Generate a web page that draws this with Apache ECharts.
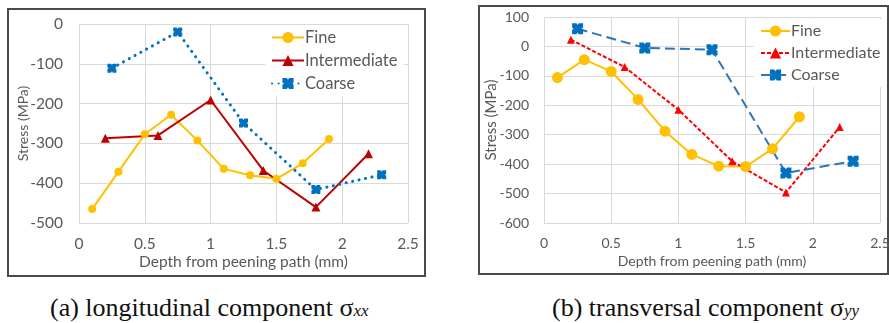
<!DOCTYPE html>
<html>
<head>
<meta charset="utf-8">
<script src="https://cdn.jsdelivr.net/npm/echarts@6/dist/echarts.min.js"></script>
<style>
  html, body { margin: 0; padding: 0; background: #fff; }
  body { width: 889px; height: 323px; position: relative; overflow: hidden; }
  .box { position: absolute; border: 2px solid #4a4a4a; box-sizing: border-box; }
  .chart { position: absolute; }
  .cap { position: absolute; font-family: "Liberation Serif", "DejaVu Serif", serif; font-size: 26px; color: #111; white-space: nowrap; line-height: 1; }
  .cap i { font-size: 17px; }
</style>
</head>
<body>
<div class="box" style="left:7px;top:8px;width:419px;height:269px;"></div>
<div class="box" style="left:478px;top:5px;width:411px;height:270px;"></div>
<div id="chartA" class="chart" style="left:7px;top:9px;width:418px;height:267px;"></div>
<div id="chartB" class="chart" style="left:479px;top:6px;width:410px;height:268px;"></div>
<div class="cap" style="left:50px;top:295px;">(a) longitudinal component σ<i>xx</i></div>
<div class="cap" style="left:552px;top:295px;">(b) transversal component σ<i>yy</i></div>
<script>
// Depth positions (mm) for each grain size
const depthFine = [0.1, 0.3, 0.5, 0.7, 0.9, 1.1, 1.3, 1.5, 1.7, 1.9];
const depthIntermediate = [0.2, 0.6, 1.0, 1.4, 1.8, 2.2];
const depthCoarse = [0.25, 0.75, 1.25, 1.8, 2.3];

// (a) longitudinal stress sigma_xx (MPa)
const sxxFine = [-465, -371, -277, -228, -293, -364, -380, -389, -350, -289];
const sxxIntermediate = [-287, -280, -191, -368, -460, -326];
const sxxCoarse = [-111, -20, -249, -416, -379];

// (b) transversal stress sigma_yy (MPa)
const syyFine = [-106, -45, -85, -180, -288, -367, -407, -408, -348, -239];
const syyIntermediate = [23, -70, -215, -390, -496, -274];
const syyCoarse = [60, -5, -11, -430, -390];

// Axis ranges
const xRange = [0, 2.5, 0.5];
const yRangeA = [-500, 0, 100];
const yRangeB = [-600, 100, 100];

const names = ['Fine', 'Intermediate', 'Coarse'];
const FONT = 'Lato, "Open Sans", sans-serif';
const TXT = '#595959';
const GRID = '#d9d9d9';
const coarseMark = 'path://M0,0 L4,0 L5,1.6 L6,0 L10,0 L10,4 L8.4,5 L10,6 L10,10 L6,10 L5,8.4 L4,10 L0,10 L0,6 L1.6,5 L0,4 Z';

function pairs(xs, ys) { return xs.map((x, i) => [x, ys[i]]); }

function axes(yr, o) {
  return {
    xAxis: {
      type: 'value', min: xRange[0], max: xRange[1], interval: xRange[2],
      name: 'Depth from peening path (mm)', nameLocation: 'middle', nameGap: o.xNameGap,
      nameMoveOverlap: false,
      nameTextStyle: { color: TXT, fontFamily: FONT, fontSize: o.fs },
      axisLine: { show: false }, axisTick: { show: false },
      axisLabel: { color: TXT, fontFamily: FONT, fontSize: o.fs, margin: o.xMargin },
      splitLine: { show: true, lineStyle: { color: GRID, width: 1 } }
    },
    yAxis: {
      type: 'value', min: yr[0], max: yr[1], interval: yr[2],
      name: 'Stress (MPa)', nameLocation: 'middle', nameGap: o.yNameGap,
      nameMoveOverlap: false,
      nameTextStyle: { color: TXT, fontFamily: FONT, fontSize: o.yNameFs },
      axisLine: { show: false }, axisTick: { show: false },
      axisLabel: { color: TXT, fontFamily: FONT, fontSize: o.fs, margin: o.yMargin },
      splitLine: { show: true, lineStyle: { color: GRID, width: 1 } }
    }
  };
}

// Panel (a)
const chartA = echarts.init(document.getElementById('chartA'));
const axA = axes(yRangeA, { fs: 15.5, yNameFs: 14, xNameGap: 31, xMargin: 13, yNameGap: 49, yMargin: 16 });
chartA.setOption({
  animation: false,
  grid: { left: 72, top: 15, width: 329, height: 199, outerBoundsMode: 'none' },
  xAxis: axA.xAxis, yAxis: axA.yAxis,
  legend: {
    orient: 'vertical', left: 258, top: 16, padding: [4, 6, 4, 6],
    backgroundColor: '#fff', itemWidth: 32, itemHeight: 14, itemGap: 6,
    textStyle: { color: TXT, fontFamily: FONT, fontSize: 16.5, padding: [0, 0, 0, -4] },
    data: names
  },
  series: [
    { name: 'Fine', type: 'line', data: pairs(depthFine, sxxFine), symbol: 'circle', symbolSize: 8,
      itemStyle: { color: '#ffc000' }, lineStyle: { color: '#ffc000', width: 2 } },
    { name: 'Intermediate', type: 'line', data: pairs(depthIntermediate, sxxIntermediate), symbol: 'triangle', symbolSize: 9,
      itemStyle: { color: '#c00000' }, lineStyle: { color: '#c00000', width: 2 } },
    { name: 'Coarse', type: 'line', data: pairs(depthCoarse, sxxCoarse), symbol: coarseMark, symbolSize: 9,
      itemStyle: { color: '#0070c0' }, lineStyle: { color: '#0070c0', width: 3, type: [0.1, 6.5], cap: 'round' } }
  ]
});

// Panel (b)
const chartB = echarts.init(document.getElementById('chartB'));
const axB = axes(yRangeB, { fs: 14, yNameFs: 15, xNameGap: 31, xMargin: 13, yNameGap: 45, yMargin: 15 });
chartB.setOption({
  animation: false,
  grid: { left: 65, top: 11, width: 336, height: 206, outerBoundsMode: 'none' },
  xAxis: axB.xAxis, yAxis: axB.yAxis,
  legend: {
    orient: 'vertical', left: 275, top: 13, padding: [4, 6, 4, 6],
    backgroundColor: '#fff', itemWidth: 29, itemHeight: 14, itemGap: 6,
    textStyle: { color: TXT, fontFamily: FONT, fontSize: 16, padding: [0, 0, 0, -4] },
    data: names
  },
  series: [
    { name: 'Fine', type: 'line', data: pairs(depthFine, syyFine), symbol: 'circle', symbolSize: 11,
      itemStyle: { color: '#ffc000' }, lineStyle: { color: '#ffc000', width: 2 } },
    { name: 'Intermediate', type: 'line', data: pairs(depthIntermediate, syyIntermediate), symbol: 'triangle', symbolSize: 8,
      itemStyle: { color: '#ff0000' }, lineStyle: { color: '#ff0000', width: 2, type: [4, 2] } },
    { name: 'Coarse', type: 'line', data: pairs(depthCoarse, syyCoarse), symbol: coarseMark, symbolSize: 11,
      itemStyle: { color: '#0070c0' }, lineStyle: { color: '#2e75b6', width: 2, type: [10, 5] } }
  ]
});
</script>
</body>
</html>
